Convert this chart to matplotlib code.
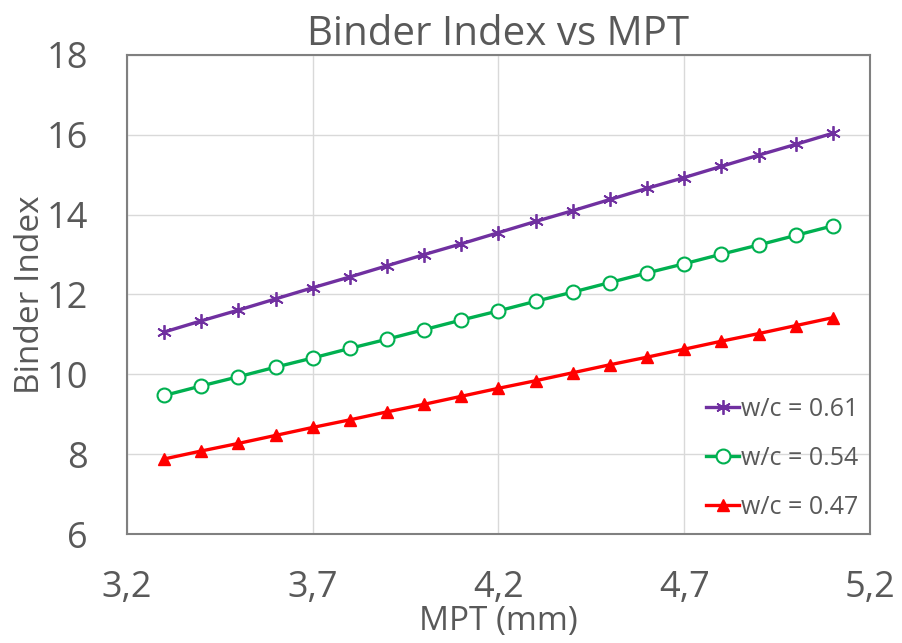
import matplotlib.pyplot as plt
from matplotlib.ticker import FuncFormatter

# MPT (mm)
mpt = [3.3, 3.4, 3.5, 3.6, 3.7, 3.8, 3.9, 4.0, 4.1, 4.2,
       4.3, 4.4, 4.5, 4.6, 4.7, 4.8, 4.9, 5.0, 5.1]

# Binder index per w/c ratio
bi_061 = [11.06, 11.34, 11.61, 11.89, 12.17, 12.44, 12.72, 13.00, 13.27, 13.55,
          13.83, 14.10, 14.38, 14.66, 14.93, 15.21, 15.49, 15.76, 16.04]
bi_054 = [9.47, 9.71, 9.94, 10.18, 10.41, 10.65, 10.88, 11.12, 11.36, 11.59,
          11.83, 12.06, 12.30, 12.54, 12.77, 13.01, 13.24, 13.48, 13.72]
bi_047 = [7.88, 8.08, 8.27, 8.47, 8.67, 8.86, 9.06, 9.25, 9.45, 9.65,
          9.84, 10.04, 10.24, 10.43, 10.63, 10.83, 11.02, 11.22, 11.42]

labels = ["w/c = 0.61", "w/c = 0.54", "w/c = 0.47"]
xticks = [3.2, 3.7, 4.2, 4.7, 5.2]
yticks = [6, 8, 10, 12, 14, 16, 18]

TXT = "#595959"
plt.rcParams["font.family"] = ["Open Sans", "DejaVu Sans"]

fig = plt.figure(figsize=(9.02, 6.43), dpi=100)
ax = fig.add_axes([0.1408, 0.1695, 0.8237, 0.745])

ax.plot(mpt, bi_061, color="#7030A0", lw=2.4, marker=(6, 2, 0),
        markersize=10.5, markeredgewidth=1.3, label=labels[0])
ax.plot(mpt, bi_054, color="#00B050", lw=2.4, marker="o", markersize=10,
        markerfacecolor="white", markeredgewidth=1.5, label=labels[1])
ax.plot(mpt, bi_047, color="#FF0000", lw=2.4, marker="^", markersize=9,
        label=labels[2])

ax.set_xlim(3.2, 5.2)
ax.set_ylim(6, 18)
ax.set_xticks(xticks)
ax.set_yticks(yticks)
ax.xaxis.set_major_formatter(FuncFormatter(lambda v, p: f"{v:.1f}".replace(".", ",")))
ax.tick_params(length=0, labelsize=26, colors=TXT)
ax.tick_params(axis="y", pad=28)
ax.tick_params(axis="x", pad=26)
ax.grid(True, color="#D9D9D9", lw=1)
ax.set_axisbelow(True)
for s in ax.spines.values():
    s.set_color("#808080")
    s.set_linewidth(1.5)

ax.set_title("Binder Index vs MPT", fontsize=29, color=TXT, pad=3)
ax.set_xlabel("MPT (mm)", fontsize=24, color=TXT)
ax.set_ylabel("Binder Index", fontsize=24, color=TXT)
ax.xaxis.set_label_coords(0.5, -0.148)
ax.yaxis.set_label_coords(-0.108, 0.5)

ax.legend(loc="lower right", frameon=False, fontsize=18, handlelength=1.3,
          handletextpad=0.1, labelspacing=0.95, labelcolor=TXT,
          borderpad=0, borderaxespad=0, bbox_to_anchor=(0.985, 0.03))

fig.savefig("out.png", dpi=100)
